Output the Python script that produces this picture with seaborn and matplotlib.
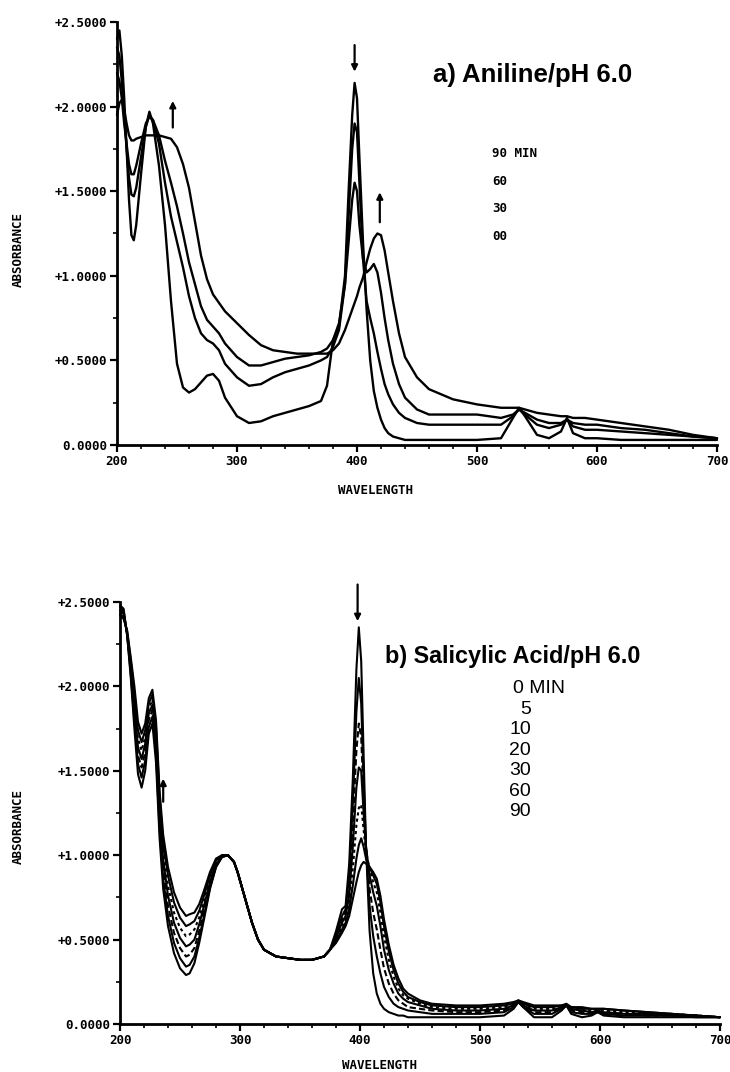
import numpy as np
import pandas as pd
import matplotlib
matplotlib.use("Agg")
import matplotlib.pyplot as plt
import seaborn as sns
from matplotlib.ticker import MultipleLocator, FuncFormatter

# ---------------- data: a) Aniline / pH 6.0 ----------------
wl_a = [200, 202, 204, 206, 208, 210, 212, 214, 216, 220, 224, 227, 230, 235, 240,
        245, 250, 255, 260, 265, 270, 275, 280, 285, 290, 300, 310, 320, 330, 340,
        350, 360, 370, 375, 380, 385, 390, 393, 396, 398, 400, 402, 405, 408, 411,
        414, 417, 420, 423, 426, 430, 435, 440, 450, 460, 480, 500, 520, 530, 535,
        540, 550, 560, 570, 575, 580, 590, 600, 620, 640, 660, 680, 700]
aniline_0 = [2.40, 2.45, 2.30, 2.05, 1.75, 1.45, 1.24, 1.21, 1.30, 1.60, 1.88, 1.97, 1.90, 1.65, 1.30,
             0.85, 0.48, 0.34, 0.31, 0.33, 0.37, 0.41, 0.42, 0.38, 0.28, 0.17, 0.13, 0.14, 0.17, 0.19,
             0.21, 0.23, 0.26, 0.35, 0.62, 0.70, 1.00, 1.50, 1.95, 2.14, 2.05, 1.70, 1.20, 0.80, 0.50,
             0.32, 0.22, 0.15, 0.10, 0.07, 0.05, 0.04, 0.03, 0.03, 0.03, 0.03, 0.03, 0.04, 0.16, 0.22,
             0.17, 0.06, 0.04, 0.08, 0.16, 0.07, 0.04, 0.04, 0.03, 0.03, 0.03, 0.03, 0.03]
aniline_30 = [2.35, 2.30, 2.15, 1.95, 1.75, 1.58, 1.48, 1.47, 1.52, 1.70, 1.88, 1.95, 1.92, 1.78, 1.55,
              1.35, 1.20, 1.05, 0.88, 0.75, 0.66, 0.62, 0.60, 0.56, 0.48, 0.40, 0.35, 0.36, 0.40, 0.43,
              0.45, 0.47, 0.50, 0.52, 0.58, 0.68, 0.95, 1.35, 1.75, 1.90, 1.85, 1.55, 1.10, 0.85, 0.75,
              0.66, 0.55, 0.45, 0.36, 0.30, 0.24, 0.19, 0.16, 0.13, 0.12, 0.12, 0.12, 0.12, 0.17, 0.21,
              0.18, 0.12, 0.10, 0.12, 0.15, 0.11, 0.09, 0.09, 0.08, 0.07, 0.06, 0.05, 0.04]
aniline_60 = [2.20, 2.15, 2.05, 1.90, 1.78, 1.66, 1.60, 1.60, 1.65, 1.78, 1.90, 1.94, 1.92, 1.83, 1.68,
              1.55, 1.41, 1.25, 1.08, 0.95, 0.82, 0.74, 0.70, 0.66, 0.60, 0.52, 0.47, 0.47, 0.49, 0.51,
              0.52, 0.53, 0.55, 0.57, 0.62, 0.72, 0.95, 1.20, 1.45, 1.55, 1.50, 1.30, 1.10, 1.02, 1.04,
              1.07, 1.02, 0.90, 0.75, 0.62, 0.48, 0.36, 0.28, 0.21, 0.18, 0.18, 0.18, 0.16, 0.18, 0.21,
              0.19, 0.15, 0.13, 0.13, 0.15, 0.13, 0.12, 0.12, 0.10, 0.09, 0.07, 0.05, 0.04]
aniline_90 = [1.95, 2.02, 2.04, 1.98, 1.90, 1.83, 1.80, 1.80, 1.81, 1.82, 1.83, 1.83, 1.83, 1.83, 1.82,
              1.81, 1.76, 1.66, 1.52, 1.32, 1.12, 0.98, 0.89, 0.84, 0.79, 0.72, 0.65, 0.59, 0.56, 0.55,
              0.54, 0.54, 0.54, 0.54, 0.56, 0.60, 0.68, 0.74, 0.80, 0.84, 0.88, 0.93, 0.99, 1.08, 1.16,
              1.22, 1.25, 1.24, 1.15, 1.02, 0.85, 0.66, 0.52, 0.40, 0.33, 0.27, 0.24, 0.22, 0.22, 0.22,
              0.21, 0.19, 0.18, 0.17, 0.17, 0.16, 0.16, 0.15, 0.13, 0.11, 0.09, 0.06, 0.04]
aniline_labels = ["0", "30", "60", "90"]
aniline_legend = ["90 MIN", "60", "30", "00"]

# ---------------- data: b) Salicylic Acid / pH 6.0 ----------------
wl_b = [200, 203, 206, 209, 212, 215, 218, 221, 224, 227, 230, 233, 236, 240, 245,
        250, 255, 258, 262, 266, 270, 275, 280, 285, 290, 295, 298, 302, 306, 310,
        315, 320, 330, 340, 350, 360, 370, 375, 380, 385, 388, 391, 394, 397, 399,
        401, 403, 405, 408, 411, 414, 417, 420, 424, 428, 432, 436, 440, 450, 460,
        480, 500, 520, 528, 532, 536, 545, 560, 568, 572, 576, 585, 593, 598, 603,
        620, 640, 660, 680, 700]
sal_0 = [2.48, 2.46, 2.30, 2.05, 1.75, 1.48, 1.40, 1.50, 1.72, 1.78, 1.55, 1.10, 0.80, 0.58, 0.42,
         0.33, 0.29, 0.30, 0.36, 0.48, 0.62, 0.80, 0.93, 0.99, 1.00, 0.96, 0.90, 0.80, 0.70, 0.60,
         0.50, 0.44, 0.40, 0.39, 0.38, 0.38, 0.40, 0.44, 0.55, 0.68, 0.70, 0.95, 1.45, 2.10, 2.35,
         2.15, 1.60, 1.05, 0.55, 0.30, 0.18, 0.12, 0.09, 0.07, 0.06, 0.05, 0.05, 0.04, 0.04, 0.04,
         0.04, 0.04, 0.05, 0.09, 0.13, 0.10, 0.04, 0.04, 0.08, 0.11, 0.06, 0.04, 0.05, 0.07, 0.05,
         0.04, 0.04, 0.04, 0.04, 0.04]
sal_5 = [2.47, 2.45, 2.30, 2.07, 1.80, 1.54, 1.46, 1.56, 1.76, 1.82, 1.60, 1.15, 0.86, 0.64, 0.48,
         0.39, 0.34, 0.35, 0.40, 0.51, 0.64, 0.81, 0.93, 0.99, 1.00, 0.96, 0.90, 0.80, 0.70, 0.60,
         0.50, 0.44, 0.40, 0.39, 0.38, 0.38, 0.40, 0.44, 0.53, 0.64, 0.68, 0.88, 1.30, 1.85, 2.05,
         1.90, 1.45, 1.05, 0.70, 0.52, 0.40, 0.30, 0.22, 0.16, 0.12, 0.10, 0.09, 0.08, 0.07, 0.06,
         0.06, 0.06, 0.07, 0.10, 0.13, 0.10, 0.06, 0.06, 0.09, 0.11, 0.07, 0.06, 0.06, 0.07, 0.06,
         0.05, 0.05, 0.05, 0.04, 0.04]
sal_10 = [2.46, 2.44, 2.31, 2.09, 1.84, 1.59, 1.52, 1.61, 1.80, 1.86, 1.64, 1.20, 0.91, 0.70, 0.54,
          0.45, 0.40, 0.41, 0.45, 0.55, 0.67, 0.82, 0.94, 0.99, 1.00, 0.96, 0.90, 0.80, 0.70, 0.60,
          0.50, 0.44, 0.40, 0.39, 0.38, 0.38, 0.40, 0.44, 0.52, 0.62, 0.66, 0.82, 1.18, 1.62, 1.78,
          1.70, 1.35, 1.05, 0.80, 0.66, 0.56, 0.44, 0.33, 0.24, 0.18, 0.14, 0.12, 0.10, 0.09, 0.08,
          0.07, 0.07, 0.08, 0.11, 0.13, 0.11, 0.07, 0.07, 0.09, 0.11, 0.08, 0.07, 0.07, 0.07, 0.07,
          0.06, 0.05, 0.05, 0.05, 0.04]
sal_20 = [2.45, 2.43, 2.31, 2.11, 1.88, 1.64, 1.57, 1.66, 1.84, 1.89, 1.68, 1.25, 0.97, 0.76, 0.60,
          0.51, 0.46, 0.47, 0.50, 0.59, 0.70, 0.84, 0.95, 0.99, 1.00, 0.96, 0.90, 0.80, 0.70, 0.60,
          0.50, 0.44, 0.40, 0.39, 0.38, 0.38, 0.40, 0.44, 0.51, 0.60, 0.64, 0.76, 1.05, 1.40, 1.52,
          1.50, 1.25, 1.05, 0.88, 0.78, 0.70, 0.58, 0.44, 0.32, 0.24, 0.18, 0.15, 0.13, 0.11, 0.09,
          0.08, 0.08, 0.09, 0.11, 0.13, 0.11, 0.08, 0.08, 0.10, 0.11, 0.09, 0.08, 0.07, 0.08, 0.07,
          0.06, 0.06, 0.05, 0.05, 0.04]
sal_30 = [2.44, 2.42, 2.32, 2.13, 1.92, 1.69, 1.62, 1.70, 1.87, 1.92, 1.72, 1.30, 1.02, 0.82, 0.66,
          0.57, 0.52, 0.53, 0.56, 0.63, 0.73, 0.86, 0.96, 1.00, 1.00, 0.96, 0.90, 0.80, 0.70, 0.60,
          0.50, 0.44, 0.40, 0.39, 0.38, 0.38, 0.40, 0.44, 0.50, 0.58, 0.62, 0.72, 0.92, 1.18, 1.28,
          1.30, 1.15, 1.02, 0.92, 0.84, 0.78, 0.66, 0.52, 0.38, 0.28, 0.21, 0.17, 0.15, 0.12, 0.10,
          0.09, 0.09, 0.10, 0.12, 0.13, 0.12, 0.09, 0.09, 0.10, 0.11, 0.09, 0.08, 0.08, 0.08, 0.08,
          0.07, 0.06, 0.06, 0.05, 0.04]
sal_60 = [2.43, 2.41, 2.32, 2.15, 1.96, 1.74, 1.67, 1.74, 1.90, 1.95, 1.76, 1.34, 1.07, 0.88, 0.72,
          0.63, 0.58, 0.59, 0.61, 0.67, 0.76, 0.88, 0.97, 1.00, 1.00, 0.96, 0.90, 0.80, 0.70, 0.60,
          0.50, 0.44, 0.40, 0.39, 0.38, 0.38, 0.40, 0.44, 0.49, 0.56, 0.60, 0.68, 0.82, 0.98, 1.06,
          1.10, 1.05, 0.98, 0.93, 0.88, 0.83, 0.72, 0.58, 0.43, 0.32, 0.24, 0.19, 0.16, 0.13, 0.11,
          0.10, 0.10, 0.11, 0.12, 0.14, 0.12, 0.10, 0.10, 0.11, 0.11, 0.10, 0.09, 0.09, 0.09, 0.09,
          0.08, 0.07, 0.06, 0.05, 0.04]
sal_90 = [2.42, 2.40, 2.33, 2.17, 2.00, 1.79, 1.72, 1.78, 1.93, 1.98, 1.80, 1.38, 1.12, 0.93, 0.78,
          0.69, 0.64, 0.65, 0.66, 0.71, 0.79, 0.90, 0.98, 1.00, 1.00, 0.96, 0.90, 0.80, 0.70, 0.60,
          0.50, 0.44, 0.40, 0.39, 0.38, 0.38, 0.40, 0.44, 0.48, 0.54, 0.58, 0.64, 0.74, 0.84, 0.90,
          0.94, 0.96, 0.95, 0.93, 0.90, 0.86, 0.76, 0.62, 0.47, 0.35, 0.27, 0.21, 0.18, 0.14, 0.12,
          0.11, 0.11, 0.12, 0.13, 0.14, 0.13, 0.11, 0.11, 0.11, 0.12, 0.10, 0.10, 0.09, 0.09, 0.09,
          0.08, 0.07, 0.06, 0.05, 0.04]
sal_labels = ["0", "5", "10", "20", "30", "60", "90"]
sal_legend = ["0 MIN", "5", "10", "20", "30", "60", "90"]

y_ticks = [0.0, 0.5, 1.0, 1.5, 2.0, 2.5]
x_ticks = [200, 300, 400, 500, 600, 700]

# ---------------- figure ----------------
sns.set_theme(style="ticks")
plt.rcParams["font.family"] = ["Liberation Sans", "DejaVu Sans"]
plt.rcParams["text.color"] = "black"
plt.rcParams["axes.labelcolor"] = "black"

fig = plt.figure(figsize=(7.30, 10.72), dpi=100)
ax_a = fig.add_axes([117 / 730, 1 - 445 / 1072, 600 / 730, 423 / 1072])
ax_b = fig.add_axes([120 / 730, 1 - 1024 / 1072, 600 / 730, 422 / 1072])


def long_frame(wl, series, labels):
    rows = []
    for lab, vals in zip(labels, series):
        rows.append(pd.DataFrame({"wavelength": wl, "absorbance": vals, "time": lab}))
    return pd.concat(rows, ignore_index=True)


df_a = long_frame(wl_a, [aniline_0, aniline_30, aniline_60, aniline_90], aniline_labels)
df_b = long_frame(wl_b, [sal_0, sal_5, sal_10, sal_20, sal_30, sal_60, sal_90], sal_labels)

sns.lineplot(data=df_a, x="wavelength", y="absorbance", hue="time",
             palette=["black"] * 4, estimator=None, sort=False, lw=1.7,
             legend=False, ax=ax_a)
dash_b = {"0": "", "5": "", "10": (3, 1.5), "20": "", "30": (1.5, 1.5), "60": "", "90": ""}
sns.lineplot(data=df_b, x="wavelength", y="absorbance", hue="time", style="time",
             dashes=dash_b, palette=["black"] * 7, estimator=None, sort=False, lw=1.5,
             legend=False, ax=ax_b)

mono = {"family": "DejaVu Sans Mono", "weight": "bold", "size": 9, "color": "black"}


def fmt_y(v, _):
    return "0.0000" if abs(v) < 1e-9 else f"+{v:.4f}"


for ax in (ax_a, ax_b):
    ax.set_xlim(200, 700)
    ax.set_ylim(0, 2.5)
    ax.set_xticks(x_ticks)
    ax.set_yticks(y_ticks)
    ax.xaxis.set_minor_locator(MultipleLocator(20))
    ax.yaxis.set_minor_locator(MultipleLocator(0.25))
    ax.yaxis.set_major_formatter(FuncFormatter(fmt_y))
    for side in ("top", "right"):
        ax.spines[side].set_visible(False)
    for side in ("left", "bottom"):
        ax.spines[side].set_linewidth(2.0)
        ax.spines[side].set_color("black")
    ax.tick_params(which="major", direction="out", length=5, width=1.6, colors="black", pad=2)
    ax.tick_params(which="minor", direction="out", length=3, width=1.2, colors="black")
    for lab in ax.get_xticklabels() + ax.get_yticklabels():
        lab.set_fontfamily(mono["family"])
        lab.set_fontweight(mono["weight"])
        lab.set_fontsize(mono["size"])
    ax.set_xlabel("WAVELENGTH", fontdict=mono)
    ax.set_ylabel("ABSORBANCE", fontdict=mono)
    ax.grid(False)
    for ln in ax.lines:
        ln.set_clip_on(False)

ax_a.xaxis.set_label_coords(0.43, -0.092)
ax_a.yaxis.set_label_coords(-0.153, 0.461)
ax_b.xaxis.set_label_coords(0.433, -0.083)
ax_b.yaxis.set_label_coords(-0.158, 0.467)

# titles
ax_a.text(0.527, 0.875, "a) Aniline/pH 6.0", transform=ax_a.transAxes, fontsize=18.5,
          fontweight="bold", va="center", ha="left", color="black")
ax_b.text(0.442, 0.87, "b) Salicylic Acid/pH 6.0", transform=ax_b.transAxes, fontsize=16.8,
          fontweight="bold", va="center", ha="left", color="black")

# legends (time lists)
for i, lab in enumerate(aniline_legend):
    ax_a.text(0.625, 0.690 - i * 0.066, lab, transform=ax_a.transAxes, ha="left",
              va="center", fontdict=mono)
for i, lab in enumerate(sal_legend):
    if i == 0:
        ax_b.text(0.655, 0.794, lab, transform=ax_b.transAxes, ha="left", va="center",
                  fontsize=14, color="black")
    else:
        ax_b.text(0.685, 0.794 - i * 0.0486, lab, transform=ax_b.transAxes, ha="right",
                  va="center", fontsize=14, color="black")

# arrows
arrow = dict(arrowstyle="-|>", color="black", lw=1.6, mutation_scale=9)
ax_a.annotate("", xy=(398, 2.19), xytext=(398, 2.38), arrowprops=arrow, annotation_clip=False)
ax_a.annotate("", xy=(246.5, 2.05), xytext=(246.5, 1.86), arrowprops=arrow, annotation_clip=False)
ax_a.annotate("", xy=(419, 1.51), xytext=(419, 1.30), arrowprops=arrow, annotation_clip=False)
ax_b.annotate("", xy=(398, 2.37), xytext=(398, 2.62), arrowprops=arrow, annotation_clip=False)
ax_b.annotate("", xy=(236, 1.47), xytext=(236, 1.30), arrowprops=arrow, annotation_clip=False)

fig.savefig("out.png", dpi=100, facecolor="white")
